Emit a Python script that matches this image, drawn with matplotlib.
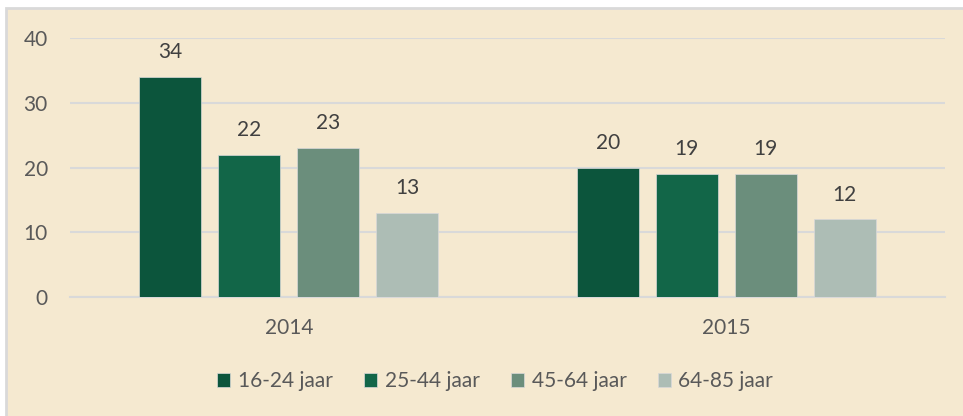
import matplotlib
matplotlib.use("Agg")
import matplotlib.pyplot as plt
from matplotlib.patches import Rectangle
import numpy as np

years = ["2014", "2015"]
series = ["16-24 jaar", "25-44 jaar", "45-64 jaar", "64-85 jaar"]
values = {
    "16-24 jaar": [34, 20],
    "25-44 jaar": [22, 19],
    "45-64 jaar": [23, 19],
    "64-85 jaar": [13, 12],
}
colors = ["#0C553C", "#126648", "#6B8E7C", "#ADBDB5"]
yticks = [0, 10, 20, 30, 40]

W, H = 963, 416
fig = plt.figure(figsize=(W / 100, H / 100), dpi=100)
fig.patch.set_facecolor("white")
bg = "#F5E9D0"
fig.patches.append(Rectangle((6 / W, -0.01), 1.02, 1 - 8 / H + 0.01, transform=fig.transFigure,
                             facecolor=bg, edgecolor="#D9D9D9", linewidth=2, zorder=-10))

ax = fig.add_axes([70 / W, 1 - 297 / H, (945 - 70) / W, (297 - 38) / H])
ax.set_facecolor("none")
font = "Lato"
fs = 15

x = np.arange(len(years))
bw = 62 / 437.5
step = 79 / 437.5
for i, (s, c) in enumerate(zip(series, colors)):
    off = (i - 1.5) * step
    bars = ax.bar(x + off, values[s], width=bw, color=c, label=s, zorder=3,
                  edgecolor="#D9D9D9", linewidth=0.5)
    for xi, v in zip(x + off, values[s]):
        ax.text(xi, v + 2.9, f"{v}", ha="center", va="baseline", fontsize=fs,
                color="#404040", family=font)

ax.set_xlim(-0.5, 1.5)
ax.set_ylim(0, 40)
ax.set_yticks(yticks)
ax.set_yticklabels([str(t) for t in yticks], family=font, fontsize=fs, color="#595959")
ax.set_xticks(x)
ax.set_xticklabels(years, family=font, fontsize=fs, color="#595959")
ax.tick_params(axis="both", length=0)
ax.tick_params(axis="y", pad=16)
ax.tick_params(axis="x", pad=15)
ax.yaxis.grid(True, color="#D9D9D9", linewidth=1.5, zorder=0)
ax.set_axisbelow(True)
for sp in ["top", "right", "left"]:
    ax.spines[sp].set_visible(False)
ax.spines["bottom"].set_color("#D9D9D9")
ax.spines["bottom"].set_linewidth(1.5)

leg = fig.legend(loc="center", bbox_to_anchor=(495 / W, 1 - 381 / H), ncol=4, frameon=False,
                 prop={"family": font, "size": fs}, handlelength=0.65, handleheight=0.65,
                 handletextpad=0.35, columnspacing=1.5)
for t in leg.get_texts():
    t.set_color("#595959")

fig.savefig("out.png", dpi=100, facecolor=fig.get_facecolor())
